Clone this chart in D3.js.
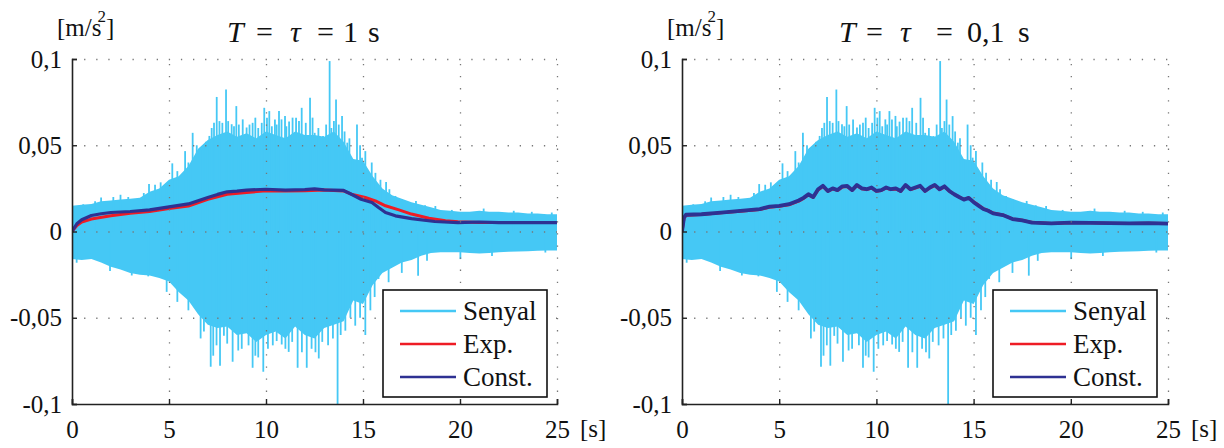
<!DOCTYPE html>
<html>
<head>
<meta charset="utf-8">
<script src="https://cdnjs.cloudflare.com/ajax/libs/d3/7.8.5/d3.min.js"></script>
</head>
<body style="margin:0">
<script>
// Signal envelope (upper / lower), read every 0.5 s
const envT = d3.range(0, 25.01, 0.5);
const envUpper = [0.015, 0.0155, 0.016, 0.0175, 0.018, 0.0185, 0.019, 0.0195, 0.023, 0.025,
  0.030, 0.032, 0.038, 0.048, 0.053, 0.056, 0.058, 0.055, 0.057, 0.054,
  0.058, 0.056, 0.054, 0.058, 0.056, 0.056, 0.055, 0.058, 0.052, 0.042,
  0.041, 0.032, 0.025, 0.021, 0.019, 0.017, 0.0155, 0.014, 0.0125, 0.012,
  0.0115, 0.0115, 0.012, 0.0115, 0.0115, 0.011, 0.011, 0.0105, 0.0105, 0.010, 0.010];
const envLower = [-0.016, -0.0165, -0.016, -0.018, -0.0205, -0.022, -0.024, -0.025, -0.0255, -0.027,
  -0.029, -0.035, -0.040, -0.048, -0.054, -0.056, -0.055, -0.060, -0.059, -0.064,
  -0.060, -0.058, -0.062, -0.055, -0.060, -0.062, -0.056, -0.054, -0.052, -0.040,
  -0.042, -0.031, -0.024, -0.021, -0.018, -0.0165, -0.014, -0.0125, -0.012, -0.012,
  -0.012, -0.0125, -0.0128, -0.0125, -0.012, -0.0118, -0.0116, -0.0115, -0.0112, -0.011, -0.011];

// Individual peaks of the signal [t, value]
const upPeaks = [[0.58, 0.0158], [1.19, 0.0175], [1.5, 0.0197], [2.13, 0.020], [2.5, 0.0213], [2.9, 0.020],
  [3.7, 0.0223], [3.97, 0.0275], [4.28, 0.0271], [4.57, 0.0285], [4.88, 0.0271], [5.17, 0.0395],
  [5.43, 0.035], [5.83, 0.0466], [6.0, 0.040], [6.22, 0.0572], [6.43, 0.050], [6.74, 0.0477],
  [6.9, 0.052], [7.08, 0.0554], [7.2, 0.060], [7.32, 0.063], [7.46, 0.078], [7.6, 0.064], [7.75, 0.063],
  [7.94, 0.0823], [8.05, 0.064], [8.23, 0.0622], [8.35, 0.061], [8.47, 0.0727], [8.6, 0.062], [8.8, 0.065],
  [9.0, 0.0603], [9.15, 0.062], [9.31, 0.063], [9.45, 0.066], [9.6, 0.060], [9.78, 0.063], [9.91, 0.0717],
  [10.05, 0.066], [10.17, 0.0698], [10.3, 0.061], [10.46, 0.065], [10.55, 0.062], [10.67, 0.0698],
  [10.8, 0.065], [10.98, 0.067], [11.05, 0.061], [11.19, 0.0637], [11.37, 0.066], [11.55, 0.066],
  [11.7, 0.064], [11.84, 0.0717], [12.05, 0.063], [12.27, 0.0775], [12.4, 0.066], [12.51, 0.0572],
  [12.7, 0.060], [12.94, 0.0553], [13.1, 0.062], [13.28, 0.0988], [13.37, 0.060], [13.5, 0.064],
  [13.61, 0.0765], [13.75, 0.062], [13.92, 0.0669], [14.05, 0.058], [14.19, 0.0515], [14.3, 0.054],
  [14.47, 0.0419], [14.69, 0.062], [14.85, 0.050], [14.95, 0.0428], [15.12, 0.0466], [15.32, 0.0337],
  [15.45, 0.040], [15.64, 0.034], [15.9, 0.030], [16.19, 0.0287], [16.36, 0.0245], [16.67, 0.0206],
  [17.01, 0.0187], [17.73, 0.0177], [18.2, 0.0152], [18.73, 0.0148], [19.58, 0.0125], [21.22, 0.0133],
  [22.77, 0.012], [23.7, 0.0114], [24.73, 0.011]];
const downPeaks = [[0.24, -0.0181], [1.96, -0.0229], [3.08, -0.0255], [3.93, -0.026], [4.88, -0.035],
  [5.43, -0.0408], [6.0, -0.0457], [6.63, -0.062], [6.8, -0.058], [7.15, -0.0784], [7.28, -0.072],
  [7.45, -0.066], [7.63, -0.0778], [7.83, -0.0605], [8.0, -0.065], [8.28, -0.0755], [8.57, -0.069],
  [8.75, -0.068], [9.1, -0.066], [9.31, -0.079], [9.45, -0.072], [9.6, -0.073], [9.86, -0.0813],
  [10.1, -0.068], [10.35, -0.066], [10.55, -0.0635], [10.81, -0.0655], [11.0, -0.068], [11.17, -0.0698],
  [11.35, -0.064], [11.63, -0.079], [11.85, -0.070], [12.1, -0.079], [12.35, -0.068], [12.55, -0.070],
  [12.72, -0.0736], [12.9, -0.064], [13.2, -0.066], [13.45, -0.062], [13.69, -0.1], [13.85, -0.060],
  [14.09, -0.0575], [14.35, -0.050], [14.6, -0.0546], [14.85, -0.050], [15.12, -0.060], [15.38, -0.0457],
  [15.6, -0.038], [15.8, -0.0275], [16.32, -0.0294], [17.0, -0.024], [17.84, -0.0256], [18.3, -0.017],
  [20.02, -0.016], [21.65, -0.0142], [24.4, -0.0122]];

// T = tau = 1 s
const expT1 = [0, 0.25, 0.5, 1, 2, 3, 4, 5, 6, 7, 8, 9, 10, 11, 12, 13, 14, 14.4, 15.12, 15.64, 16.16, 16.85, 17.5, 18.4, 19.25, 19.9, 21, 25];
const expV1 = [0, 0.0035, 0.0055, 0.0072, 0.0091, 0.0106, 0.0116, 0.0133, 0.0148, 0.0187, 0.0216, 0.0226, 0.0236, 0.0235, 0.0236, 0.024, 0.0235, 0.0216, 0.0197, 0.0177, 0.0149, 0.0125, 0.0101, 0.0077, 0.0062, 0.0056, 0.0052, 0.0052];
const constT1 = [0, 0.25, 0.5, 1, 1.5, 2, 3, 4, 5, 6, 6.5, 7, 7.5, 8, 8.5, 9, 10, 11, 12, 12.5, 13, 14, 14.4, 14.9, 15.46, 15.8, 16.16, 16.67, 17.5, 18.7, 19.9, 21, 22, 25];
const constV1 = [0, 0.0045, 0.0068, 0.0093, 0.0103, 0.011, 0.0116, 0.0125, 0.0143, 0.016, 0.0178, 0.0197, 0.0215, 0.023, 0.0234, 0.024, 0.0245, 0.024, 0.0243, 0.0247, 0.0241, 0.0238, 0.0216, 0.0187, 0.0168, 0.0139, 0.011, 0.0091, 0.0075, 0.0058, 0.0052, 0.0055, 0.0052, 0.0052];

// T = tau = 0,1 s
const constT2 = [0, 0.1, 0.2, 1, 2, 3, 4, 4.5, 5, 5.5, 6, 6.25, 6.5, 6.75, 7, 7.25, 7.5, 7.75, 8, 8.25, 8.5, 8.75, 9, 9.25, 9.5, 9.75,
  10, 10.25, 10.5, 10.75, 11, 11.25, 11.5, 11.75, 12, 12.25, 12.5, 12.75, 13, 13.25, 13.5, 13.75, 14, 14.25, 14.5, 14.75,
  15, 15.25, 15.5, 15.75, 16, 16.5, 17, 17.5, 18, 19, 20, 21, 22, 23, 24, 25];
const constV2 = [0, 0.008, 0.0097, 0.010, 0.011, 0.012, 0.013, 0.0144, 0.0149, 0.0158, 0.018, 0.0195, 0.0216, 0.020, 0.0245, 0.0265, 0.0235, 0.025, 0.024, 0.0262, 0.0264, 0.024, 0.027, 0.025, 0.0245, 0.0255,
  0.0235, 0.024, 0.0255, 0.0245, 0.025, 0.0235, 0.027, 0.0245, 0.0255, 0.0265, 0.0235, 0.0255, 0.027, 0.0245, 0.0262, 0.0235, 0.0216, 0.020, 0.0185, 0.0195,
  0.017, 0.015, 0.013, 0.012, 0.0105, 0.0095, 0.0072, 0.0065, 0.0052, 0.0047, 0.0052, 0.005, 0.0048, 0.0047, 0.0048, 0.0046];
const expV2 = [0, 0.0075, 0.0094, 0.0098, 0.0108, 0.0118, 0.0128, 0.0141, 0.0146, 0.0155, 0.0176, 0.0192, 0.0212, 0.0198, 0.0241, 0.0261, 0.0233, 0.0247, 0.0238, 0.0258, 0.0261, 0.0238, 0.0266, 0.0248, 0.0243, 0.0252,
  0.0233, 0.0238, 0.0252, 0.0243, 0.0247, 0.0233, 0.0266, 0.0243, 0.0252, 0.0262, 0.0233, 0.0252, 0.0266, 0.0243, 0.0259, 0.0234, 0.0216, 0.0201, 0.0187, 0.0195,
  0.0172, 0.0153, 0.0133, 0.0122, 0.0107, 0.0096, 0.0073, 0.0065, 0.0053, 0.0047, 0.0051, 0.005, 0.0048, 0.0047, 0.0048, 0.0046];

const xTicks = [0, 5, 10, 15, 20, 25];
const yTicks = [-0.1, -0.05, 0, 0.05, 0.1];
const legendNames = ['Senyal', 'Exp.', 'Const.'];

const colSignal = '#45c8f5';
const colExp = '#ee1c25';
const colConst = '#2e3192';
const FONT = '"Liberation Serif"';

const svg = d3.select('body').append('svg')
  .attr('width', 1224)
  .attr('height', 448);

const panels = [
  { left: 72, right: 557, constT: constT1, constV: constV1, expT: expT1, expV: expV1,
    title: [['T', 227, true], ['=', 256, false], ['τ', 290, true], ['=', 317, false], ['1', 343, false], ['s', 368, false]] },
  { left: 682, right: 1168, constT: constT2, constV: constV2, expT: constT2, expV: expV2,
    title: [['T', 839, true], ['=', 866, false], ['τ', 900, true], ['=', 936, false], ['0,1', 967, false], ['s', 1018, false]] }
];

const plotTop = 59;
const plotBottom = 404;
const fmt = (d) => d === 0 ? '0' : String(d).replace('.', ',');

// put the serif face on one text element
const serif = (sel, size) => sel
  .attr('font-size', size)
  .attr('font-family', FONT)
  .style('font-family', FONT)
  .attr('fill', '#111');

panels.forEach((p, pi) => {
  const x = d3.scaleLinear().domain([0, 25]).range([p.left, p.right]);
  const y = d3.scaleLinear().domain([-0.1, 0.1]).range([plotBottom, plotTop]);

  const clipId = 'clip' + pi;
  svg.append('clipPath').attr('id', clipId)
    .append('rect')
    .attr('x', p.left).attr('y', plotTop)
    .attr('width', p.right - p.left).attr('height', plotBottom - plotTop);

  const plot = svg.append('g').attr('clip-path', `url(#${clipId})`);

  // Signal band
  const area = d3.area()
    .x((d, i) => x(envT[i]))
    .y0((d, i) => y(envLower[i]))
    .y1((d) => y(d));
  plot.append('path')
    .attr('fill', colSignal)
    .attr('d', area(envUpper));

  // Signal peaks
  plot.append('g')
    .selectAll('line')
    .data(upPeaks.concat(downPeaks))
    .join('line')
    .attr('x1', (d) => x(d[0]))
    .attr('x2', (d) => x(d[0]))
    .attr('y1', y(0))
    .attr('y2', (d) => y(d[1]))
    .attr('stroke', colSignal)
    .attr('stroke-width', 1.8);

  // Grid
  svg.append('g')
    .attr('transform', `translate(0,${plotBottom})`)
    .call(d3.axisBottom(x).tickValues(xTicks.slice(1)).tickSize(-(plotBottom - plotTop)).tickFormat(''))
    .call((g) => g.select('.domain').remove())
    .call((g) => g.selectAll('.tick line')
      .attr('stroke', '#777').attr('stroke-width', 1.3).attr('stroke-dasharray', '1.3,10.8'));
  svg.append('g')
    .attr('transform', `translate(${p.left},0)`)
    .call(d3.axisLeft(y).tickValues(yTicks.slice(1)).tickSize(-(p.right - p.left)).tickFormat(''))
    .call((g) => g.select('.domain').remove())
    .call((g) => g.selectAll('.tick line')
      .attr('stroke', '#777').attr('stroke-width', 1.3).attr('stroke-dasharray', '1.3,10.8'));

  // Filtered lines
  const line = (ts) => d3.line().x((d, i) => x(ts[i])).y((d) => y(d));
  plot.append('path')
    .attr('fill', 'none')
    .attr('stroke', colExp)
    .attr('stroke-width', 3)
    .attr('stroke-linejoin', 'round')
    .attr('d', line(p.expT)(p.expV));
  plot.append('path')
    .attr('fill', 'none')
    .attr('stroke', colConst)
    .attr('stroke-width', pi === 0 ? 3.2 : 3.8)
    .attr('stroke-linejoin', 'round')
    .attr('d', line(p.constT)(p.constV));

  // Axes
  svg.append('g')
    .attr('transform', `translate(0,${plotBottom})`)
    .call(d3.axisBottom(x).tickValues(xTicks).tickSize(-5).tickPadding(16).tickFormat(fmt))
    .attr('font-family', FONT)
    .call((g) => g.select('.domain').attr('stroke', '#222').attr('stroke-width', 1.6))
    .call((g) => g.selectAll('.tick line').attr('stroke', '#222').attr('stroke-width', 1.4))
    .call((g) => serif(g.selectAll('.tick text'), 25));
  svg.append('g')
    .attr('transform', `translate(${p.left},0)`)
    .call(d3.axisLeft(y).tickValues(yTicks).tickSize(-5).tickPadding(10).tickFormat(fmt))
    .attr('font-family', FONT)
    .call((g) => g.select('.domain').attr('stroke', '#222').attr('stroke-width', 1.6))
    .call((g) => g.selectAll('.tick line').attr('stroke', '#222').attr('stroke-width', 1.4))
    .call((g) => serif(g.selectAll('.tick text'), 25));

  // Unit labels
  const unit = serif(svg.append('text'), 25)
    .attr('x', p.left - 15)
    .attr('y', 36);
  unit.append('tspan').text('[m/s');
  unit.append('tspan').attr('font-size', 17).attr('dx', -4).attr('dy', -14).text('2');
  unit.append('tspan').attr('dy', 14).text(']');

  serif(svg.append('text'), 25)
    .attr('x', p.right + 23)
    .attr('y', 437)
    .text('[s]');

  // Title
  serif(svg.append('g').selectAll('text').data(p.title).join('text'), 30)
    .attr('x', (d) => d[1])
    .attr('y', 42)
    .attr('font-style', (d) => d[2] ? 'italic' : 'normal')
    .text((d) => d[0]);

  // Legend
  const lx = p.left + 311;
  const ly = plotTop + 231;
  const lg = svg.append('g');
  lg.append('rect')
    .attr('x', lx).attr('y', ly)
    .attr('width', 164).attr('height', 107)
    .attr('fill', '#fff')
    .attr('stroke', '#111')
    .attr('stroke-width', 1.6);
  const legCols = [colSignal, colExp, colConst];
  lg.selectAll('line')
    .data(legendNames)
    .join('line')
    .attr('x1', lx + 17).attr('x2', lx + 73)
    .attr('y1', (d, i) => ly + 21 + i * 33)
    .attr('y2', (d, i) => ly + 21 + i * 33)
    .attr('stroke', (d, i) => legCols[i])
    .attr('stroke-width', 2.5);
  serif(lg.selectAll('text').data(legendNames).join('text'), 27)
    .attr('x', lx + 80)
    .attr('y', (d, i) => ly + 30 + i * 33)
    .text((d) => d);
});

// re-apply the face once the system font is ready
if (document.fonts && document.fonts.load) {
  document.fonts.load('25px "Liberation Serif"').then(() => {
    svg.selectAll('text').style('font-family', FONT);
  });
}
</script>
</body>
</html>
